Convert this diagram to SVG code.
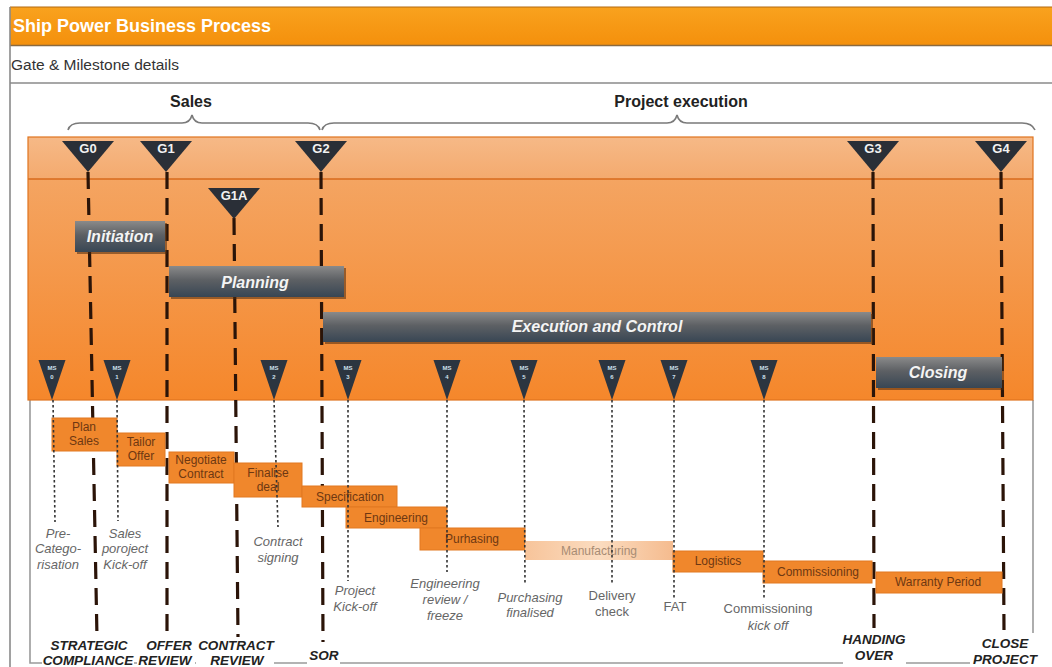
<svg xmlns="http://www.w3.org/2000/svg" width="1052" height="667" viewBox="0 0 1052 667">
  <defs>
    <linearGradient id="titleGrad" x1="0" y1="0" x2="0" y2="1">
      <stop offset="0" stop-color="#f9a21e"/>
      <stop offset="1" stop-color="#f4900c"/>
    </linearGradient>
    <linearGradient id="bandGrad" x1="0" y1="0" x2="0" y2="1">
      <stop offset="0" stop-color="#f6b987"/>
      <stop offset="1" stop-color="#f4aa6e"/>
    </linearGradient>
    <linearGradient id="panelGrad" x1="0" y1="0" x2="0" y2="1">
      <stop offset="0" stop-color="#f4aa6c"/>
      <stop offset="1" stop-color="#f5872b"/>
    </linearGradient>
    <linearGradient id="barGrad" x1="0" y1="0" x2="0" y2="1">
      <stop offset="0" stop-color="#8a8a8a"/>
      <stop offset="0.45" stop-color="#5d6064"/>
      <stop offset="1" stop-color="#384654"/>
    </linearGradient>
    <linearGradient id="mfgGrad" x1="0" y1="0" x2="1" y2="0">
      <stop offset="0" stop-color="#f7c49a"/>
      <stop offset="0.5" stop-color="#fbdcc0"/>
      <stop offset="1" stop-color="#f5bb8e"/>
    </linearGradient>
    <path id="gateTri" d="M-26,0 L26,0 L0,31 Z"/>
    <path id="msTri" d="M-13.5,0 L13.5,0 L0,40 Z"/>
  </defs>
  <style>
    text{font-family:"Liberation Sans",Arial,sans-serif}
    .frame{fill:none;stroke:#9a9a9a;stroke-width:1.6}
    .bar{fill:url(#barGrad)}
    .barShadow{fill:#4a2a10;opacity:.55}
    .barText{fill:#f4f4f4;font-size:16px;font-weight:bold;font-style:italic;text-anchor:middle}
    .gate{fill:#2a2f37}
    .gateText{fill:#f2f2f2;font-size:13px;font-weight:bold;text-anchor:middle}
    .ms{fill:#2c3540}
    .msText{fill:#cfe0ee;font-size:6px;font-weight:bold;text-anchor:middle}
    .task{fill:#f0872c;stroke:#e27820;stroke-width:1}
    .taskText{fill:#6e3812;font-size:12px;text-anchor:middle}
    .mfgText{fill:#a88c74;font-size:12px;text-anchor:middle}
    .gateLine{stroke:#2b1408;stroke-width:3.2;stroke-dasharray:17 9;fill:none}
    .msLine{stroke:#333;stroke-width:1.6;stroke-dasharray:2.5 2.5;fill:none}
    .msLabel{fill:#666;font-size:13px;font-style:italic;text-anchor:middle}
    .msLabelUp{fill:#666;font-size:13px;text-anchor:middle}
    .gateLabel{fill:#222;font-size:13.5px;font-weight:bold;font-style:italic;text-anchor:middle}
    .brace{fill:none;stroke:#7a7a7a;stroke-width:1.6}
    .head{fill:#222;font-size:16px;font-weight:bold;text-anchor:middle}
  </style>

  <!-- page background and header -->
  <rect x="0" y="0" width="1052" height="667" fill="#ffffff"/>
  <g id="header">
    <rect x="10" y="7" width="1042" height="38" fill="url(#titleGrad)"/>
    <line x1="10" y1="7" x2="1052" y2="7" stroke="#b36a10" stroke-width="1.2"/>
    <line x1="10" y1="45.5" x2="1052" y2="45.5" stroke="#8a6a40" stroke-width="1.5"/>
    <text x="13" y="32" fill="#ffffff" font-size="18" font-weight="bold">Ship Power Business Process</text>
    <text x="11" y="70" fill="#333" font-size="15.5">Gate &amp; Milestone details</text>
    <line x1="10" y1="83" x2="1052" y2="83" stroke="#8a8a8a" stroke-width="1.6"/>
    <line x1="10" y1="7" x2="10" y2="667" stroke="#8a8a8a" stroke-width="1.6"/>
  </g>

  <!-- inner frame below the orange panel -->
  <path class="frame" d="M30,400 L30,663 L1033,663 L1033,400"/>

  <!-- phase braces -->
  <g id="phases">
    <text class="head" x="191" y="107">Sales</text>
    <path class="brace" d="M68,130 Q70,123 80,123 L182,123 Q190,123 192,115 Q194,123 202,123 L308,123 Q318,123 320,130"/>
    <text class="head" x="681" y="107">Project execution</text>
    <path class="brace" d="M322,130 Q324,123 334,123 L667,123 Q675,123 677,115 Q679,123 687,123 L1022,123 Q1032,123 1035,130"/>
  </g>

  <!-- orange timeline panel -->
  <g id="panel">
    <rect x="28" y="137" width="1005" height="263" fill="url(#panelGrad)"/>
    <rect x="28" y="137" width="1005" height="42" fill="url(#bandGrad)"/>
    <line x1="28" y1="179" x2="1033" y2="179" stroke="#d86a1c" stroke-width="1.6"/>
    <rect x="28" y="137" width="1005" height="263" fill="none" stroke="#e0741e" stroke-width="1.2"/>
  </g>

  <!-- gate connectors run behind the phase bars and activities -->
  <g id="connectors">
    <line class="gateLine" x1="88" y1="172" x2="97" y2="638"/>
    <line class="gateLine" x1="167" y1="172" x2="167" y2="638"/>
    <line class="gateLine" x1="234" y1="218" x2="238" y2="637"/>
    <line class="gateLine" x1="321" y1="172" x2="323" y2="642"/>
    <line class="gateLine" x1="873" y1="172" x2="874" y2="628"/>
    <line class="gateLine" x1="1001" y1="172" x2="1004" y2="630"/>
  </g>

  <!-- project phases -->
  <g id="initiation">
    <rect class="barShadow" x="77" y="223" width="90" height="31"/>
    <rect class="bar" x="75" y="221" width="90" height="31"/>
    <text class="barText" x="120" y="242">Initiation</text>
  </g>
  <g id="planning">
    <rect class="barShadow" x="171" y="268" width="175" height="31"/>
    <rect class="bar" x="169" y="266" width="175" height="31"/>
    <text class="barText" x="255" y="288">Planning</text>
  </g>
  <g id="execution">
    <rect class="barShadow" x="325" y="314" width="548" height="30"/>
    <rect class="bar" x="323" y="312" width="548" height="30"/>
    <text class="barText" x="597" y="332">Execution and Control</text>
  </g>
  <g id="closing">
    <rect class="barShadow" x="878" y="359" width="126" height="31"/>
    <rect class="bar" x="876" y="357" width="126" height="31"/>
    <text class="barText" x="938" y="378">Closing</text>
  </g>

  <!-- activities -->
  <g id="task-plan-sales">
    <rect class="task" x="52" y="418" width="65" height="33"/>
    <text class="taskText" x="84" y="431">Plan</text>
    <text class="taskText" x="84" y="445">Sales</text>
  </g>
  <g id="task-tailor-offer">
    <rect class="task" x="117" y="433" width="48" height="33"/>
    <text class="taskText" x="141" y="446">Tailor</text>
    <text class="taskText" x="141" y="460">Offer</text>
  </g>
  <g id="task-negotiate">
    <rect class="task" x="169" y="452" width="65" height="31"/>
    <text class="taskText" x="201" y="464">Negotiate</text>
    <text class="taskText" x="201" y="478">Contract</text>
  </g>
  <g id="task-finalise">
    <rect class="task" x="234" y="463" width="68" height="34"/>
    <text class="taskText" x="268" y="477">Finalise</text>
    <text class="taskText" x="268" y="491">deal</text>
  </g>
  <g id="task-specification">
    <rect class="task" x="302" y="486" width="95" height="21"/>
    <text class="taskText" x="350" y="501">Specification</text>
  </g>
  <g id="task-engineering">
    <rect class="task" x="346" y="507" width="101" height="21"/>
    <text class="taskText" x="396" y="522">Engineering</text>
  </g>
  <g id="task-purchasing">
    <rect class="task" x="420" y="528" width="105" height="22"/>
    <text class="taskText" x="472" y="543">Purhasing</text>
  </g>
  <g id="task-manufacturing">
    <rect x="525" y="541" width="148" height="19" fill="url(#mfgGrad)"/>
    <text class="mfgText" x="599" y="555">Manufacturing</text>
  </g>
  <g id="task-logistics">
    <rect class="task" x="673" y="551" width="90" height="21"/>
    <text class="taskText" x="718" y="565">Logistics</text>
  </g>
  <g id="task-commissioning">
    <rect class="task" x="763" y="561" width="109" height="22"/>
    <text class="taskText" x="818" y="576">Commissioning</text>
  </g>
  <g id="task-warranty">
    <rect class="task" x="876" y="572" width="126" height="21"/>
    <text class="taskText" x="938" y="586">Warranty Period</text>
  </g>

  <!-- milestone connectors -->
  <g id="ms-connectors">
    <line class="msLine" x1="53" y1="400" x2="55" y2="522"/>
    <line class="msLine" x1="117" y1="400" x2="118" y2="521"/>
    <line class="msLine" x1="274" y1="400" x2="278" y2="527"/>
    <line class="msLine" x1="348" y1="400" x2="348" y2="581"/>
    <line class="msLine" x1="447" y1="400" x2="447" y2="572"/>
    <line class="msLine" x1="524" y1="400" x2="525" y2="585"/>
    <line class="msLine" x1="612" y1="400" x2="612" y2="584"/>
    <line class="msLine" x1="674" y1="400" x2="674" y2="598"/>
    <line class="msLine" x1="764" y1="400" x2="764" y2="598"/>
  </g>

  <!-- gates -->
  <g id="gate-G0"><use href="#gateTri" class="gate" x="88" y="141"/><text class="gateText" x="88" y="153">G0</text></g>
  <g id="gate-G1"><use href="#gateTri" class="gate" x="166" y="141"/><text class="gateText" x="166" y="153">G1</text></g>
  <g id="gate-G1A"><use href="#gateTri" class="gate" x="234" y="188"/><text class="gateText" x="234" y="200">G1A</text></g>
  <g id="gate-G2"><use href="#gateTri" class="gate" x="321" y="141"/><text class="gateText" x="321" y="153">G2</text></g>
  <g id="gate-G3"><use href="#gateTri" class="gate" x="873" y="141"/><text class="gateText" x="873" y="153">G3</text></g>
  <g id="gate-G4"><use href="#gateTri" class="gate" x="1001" y="141"/><text class="gateText" x="1001" y="153">G4</text></g>

  <!-- milestones -->
  <g id="ms-0"><use href="#msTri" class="ms" x="52" y="360"/><text class="msText" x="52" y="370">MS</text><text class="msText" x="52" y="379">0</text></g>
  <g id="ms-1"><use href="#msTri" class="ms" x="117" y="360"/><text class="msText" x="117" y="370">MS</text><text class="msText" x="117" y="379">1</text></g>
  <g id="ms-2"><use href="#msTri" class="ms" x="274" y="360"/><text class="msText" x="274" y="370">MS</text><text class="msText" x="274" y="379">2</text></g>
  <g id="ms-3"><use href="#msTri" class="ms" x="348" y="360"/><text class="msText" x="348" y="370">MS</text><text class="msText" x="348" y="379">3</text></g>
  <g id="ms-4"><use href="#msTri" class="ms" x="447" y="360"/><text class="msText" x="447" y="370">MS</text><text class="msText" x="447" y="379">4</text></g>
  <g id="ms-5"><use href="#msTri" class="ms" x="524" y="360"/><text class="msText" x="524" y="370">MS</text><text class="msText" x="524" y="379">5</text></g>
  <g id="ms-6"><use href="#msTri" class="ms" x="612" y="360"/><text class="msText" x="612" y="370">MS</text><text class="msText" x="612" y="379">6</text></g>
  <g id="ms-7"><use href="#msTri" class="ms" x="674" y="360"/><text class="msText" x="674" y="370">MS</text><text class="msText" x="674" y="379">7</text></g>
  <g id="ms-8"><use href="#msTri" class="ms" x="764" y="360"/><text class="msText" x="764" y="370">MS</text><text class="msText" x="764" y="379">8</text></g>

  <!-- milestone captions -->
  <g id="ms-labels">
    <text class="msLabel" x="58" y="538">Pre-</text>
    <text class="msLabel" x="58" y="553">Catego-</text>
    <text class="msLabel" x="58" y="569">risation</text>
    <text class="msLabel" x="125" y="538">Sales</text>
    <text class="msLabel" x="125" y="553">poroject</text>
    <text class="msLabel" x="125" y="569">Kick-off</text>
    <text class="msLabel" x="278" y="546">Contract</text>
    <text class="msLabel" x="278" y="562">signing</text>
    <text class="msLabel" x="355" y="595">Project</text>
    <text class="msLabel" x="355" y="611">Kick-off</text>
    <text class="msLabel" x="445" y="588">Engineering</text>
    <text class="msLabel" x="445" y="604">review /</text>
    <text class="msLabel" x="445" y="620">freeze</text>
    <text class="msLabel" x="530" y="602">Purchasing</text>
    <text class="msLabel" x="530" y="617">finalised</text>
    <text class="msLabelUp" x="612" y="600">Delivery</text>
    <text class="msLabelUp" x="612" y="616">check</text>
    <text class="msLabelUp" x="675" y="611">FAT</text>
    <text class="msLabelUp" x="768" y="613">Commissioning</text>
    <text class="msLabel" x="768" y="630">kick off</text>
  </g>

  <!-- gate reviews along the bottom edge -->
  <g id="gate-labels">
    <rect x="42" y="640" width="92" height="27" fill="#fff"/>
    <rect x="137" y="640" width="58" height="27" fill="#fff"/>
    <rect x="196" y="640" width="78" height="27" fill="#fff"/>
    <rect x="307" y="645" width="33" height="22" fill="#fff"/>
    <rect x="843" y="632" width="63" height="35" fill="#fff"/>
    <rect x="970" y="633" width="75" height="34" fill="#fff"/>
    <text class="gateLabel" x="89" y="650">STRATEGIC</text>
    <text class="gateLabel" x="88" y="665">COMPLIANCE</text>
    <text class="gateLabel" x="169" y="650">OFFER</text>
    <text class="gateLabel" x="165" y="665">REVIEW</text>
    <text class="gateLabel" x="236" y="650">CONTRACT</text>
    <text class="gateLabel" x="237" y="665">REVIEW</text>
    <text class="gateLabel" x="324" y="660">SOR</text>
    <text class="gateLabel" x="874" y="644">HANDING</text>
    <text class="gateLabel" x="874" y="660">OVER</text>
    <text class="gateLabel" x="1005" y="648">CLOSE</text>
    <text class="gateLabel" x="1005" y="664">PROJECT</text>
  </g>
</svg>
